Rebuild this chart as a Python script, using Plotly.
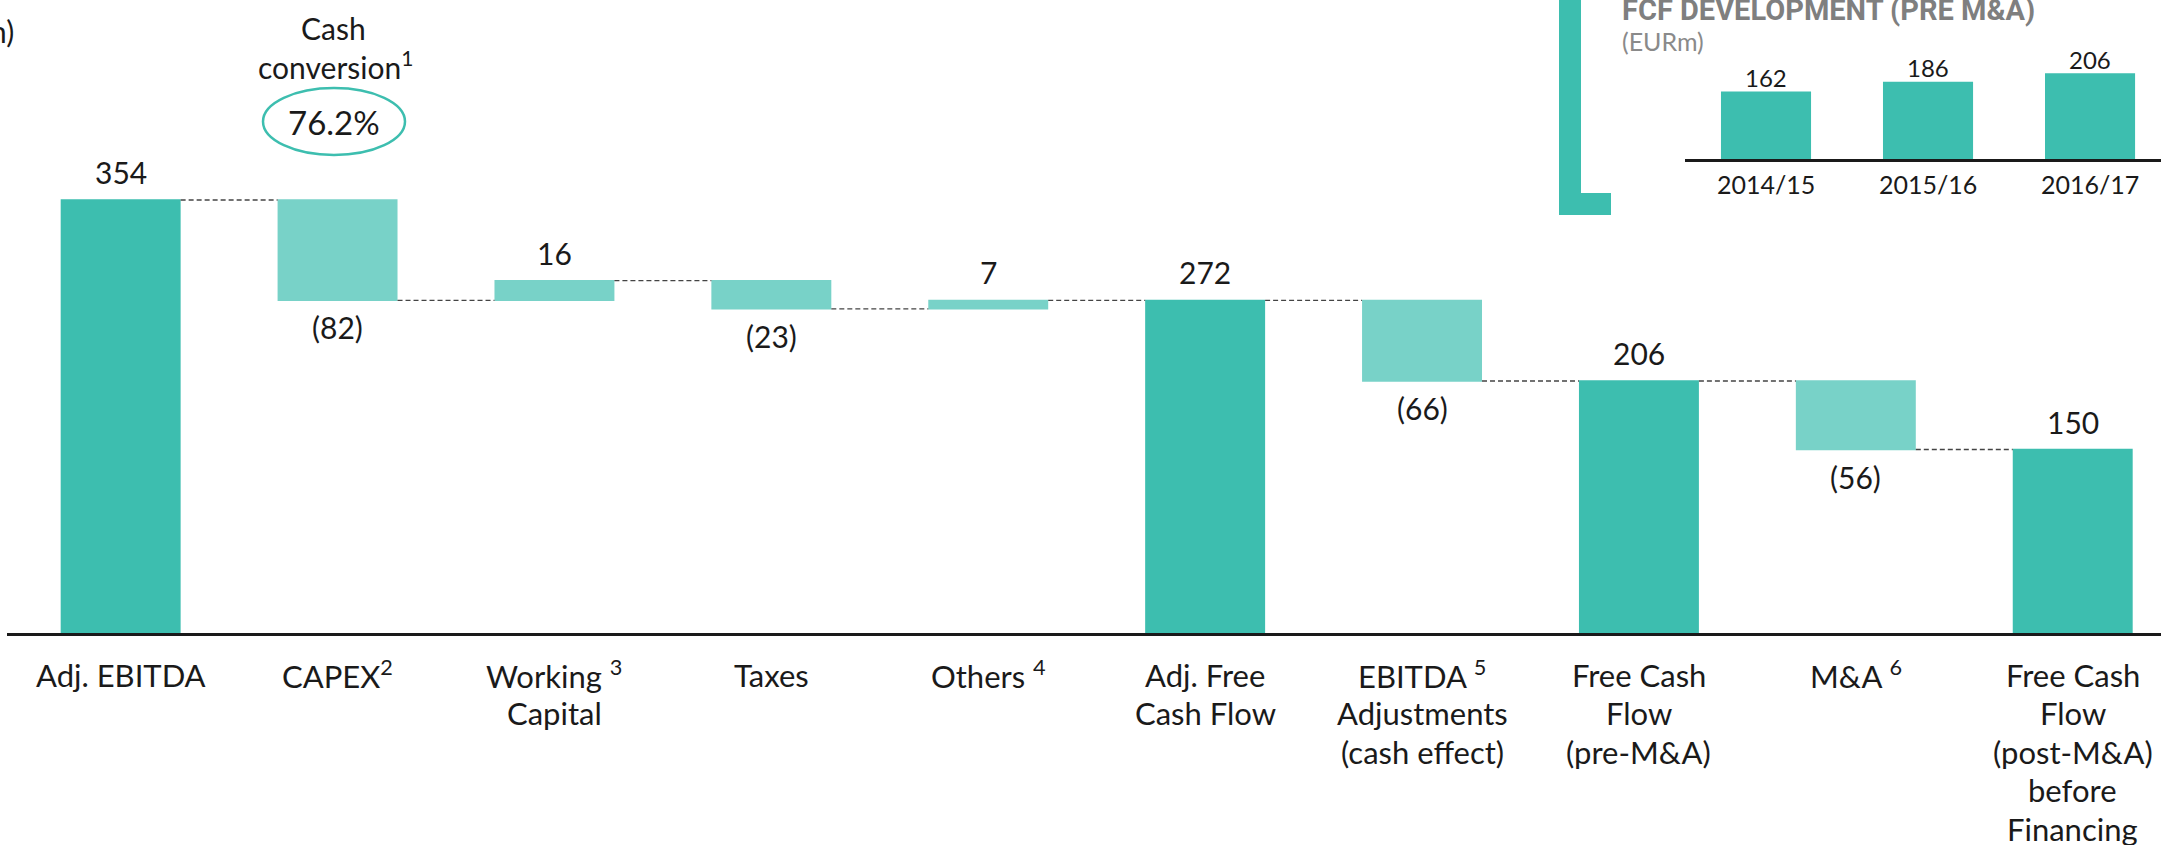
import plotly.graph_objects as go

# ---------------- data ----------------
categories = ["Adj. EBITDA", "CAPEX", "Working Capital", "Taxes", "Others",
              "Adj. Free Cash Flow", "EBITDA Adjustments", "Free Cash Flow (pre-M&A)",
              "M&A", "Free Cash Flow (post-M&A)"]
tick_labels = ["Adj. EBITDA", "CAPEX<sup>2</sup>", "Working <sup>3</sup><br>Capital", "Taxes",
               "Others <sup>4</sup>", "Adj. Free<br>Cash Flow",
               "EBITDA <sup>5</sup><br>Adjustments<br>(cash effect)",
               "Free Cash<br>Flow<br>(pre-M&A)", "M&A <sup>6</sup>",
               "Free Cash<br>Flow<br>(post-M&A)<br>before<br>Financing"]
measures = ["absolute", "relative", "relative", "relative", "relative",
            "total", "relative", "total", "relative", "total"]
values = [354, -82, 16, -23, 7, 272, -66, 206, -56, 150]

inset_years = ["2014/15", "2015/16", "2016/17"]
inset_values = [162, 186, 206]

cash_conversion = "76.2%"

# ---------------- layout helpers ----------------
W, H = 2161, 845
ML, MR, MT, MB = 7, 0, 0, 212
PW, PH = W - ML - MR, H - MT - MB
DARK = "#3DBEAF"
LIGHT = "#78D2C8"
TXT = "#1a1a1a"
FONT = "Lato, 'Open Sans', sans-serif"


def pxx(p):
    return (p - ML) / PW


def pyy(p):
    return (H - MB - p) / PH


fig = go.Figure()

fig.add_trace(go.Waterfall(
    x=categories, y=values, measure=measures,
    increasing=dict(marker=dict(color=LIGHT, line=dict(width=0))),
    decreasing=dict(marker=dict(color=LIGHT, line=dict(width=0))),
    totals=dict(marker=dict(color=DARK, line=dict(width=0))),
    connector=dict(mode="between", line=dict(color="#444444", width=1.3, dash="5px,3px")),
    textinfo="none", hoverinfo="skip", showlegend=False,
))

fig.add_trace(go.Bar(
    x=inset_years, y=inset_values, xaxis="x2", yaxis="y2",
    marker=dict(color=DARK, line=dict(width=0)), width=0.556,
    hoverinfo="skip", showlegend=False,
))

annotations = []

# value labels on the waterfall
running = 0
for cat, m, v in zip(categories, measures, values):
    if m == "absolute":
        lo, hi = 0, v
        running = v
    elif m == "total":
        lo, hi = 0, running
        v = running
    else:
        lo, hi = (running, running + v) if v >= 0 else (running + v, running)
        running += v
    if v >= 0:
        text, yv, shift = f"{v}", hi, 28
    else:
        text, yv, shift = f"({abs(v)})", lo, -27
    annotations.append(dict(x=cat, y=yv, xref="x", yref="y", text=text, showarrow=False,
                            yshift=shift, yanchor="middle", xanchor="center",
                            font=dict(family=FONT, size=30, color=TXT),
                            borderpad=0, borderwidth=0))

# category labels below the axis
for cat, lab in zip(categories, tick_labels):
    for i, line in enumerate(lab.split("<br>")):
        annotations.append(dict(x=cat, y=pyy(674.5 + i * 38.5), xref="x", yref="paper",
                                text=line, showarrow=False, yanchor="middle", xanchor="center",
                                font=dict(family=FONT, size=31, color=TXT),
                                borderpad=0, borderwidth=0))

# cash conversion
annotations += [
    dict(x=pxx(333), y=pyy(27.5), xref="paper", yref="paper", text="Cash", showarrow=False,
         yanchor="middle", xanchor="center", font=dict(family=FONT, size=30, color=TXT)),
    dict(x=pxx(335), y=pyy(65), xref="paper", yref="paper", text="conversion<sup>1</sup>",
         showarrow=False, yanchor="middle", xanchor="center",
         font=dict(family=FONT, size=30, color=TXT)),
    dict(x=pxx(334), y=pyy(122), xref="paper", yref="paper", text=cash_conversion,
         showarrow=False, yanchor="middle", xanchor="center",
         font=dict(family=FONT, size=33, color=TXT)),
    dict(x=pxx(16), y=pyy(31), xref="paper", yref="paper", text="(EURm)", showarrow=False,
         yanchor="middle", xanchor="right", font=dict(family=FONT, size=30, color=TXT)),
]

# inset labels
for yr, v in zip(inset_years, inset_values):
    annotations.append(dict(x=yr, y=v, xref="x2", yref="y2", text=str(v), showarrow=False,
                            yanchor="middle", xanchor="center", yshift=14,
                            font=dict(family=FONT, size=24, color=TXT)))
    annotations.append(dict(x=yr, y=pyy(184), xref="x2", yref="paper", text=yr,
                            showarrow=False, yanchor="middle", xanchor="center",
                            font=dict(family=FONT, size=25, color=TXT)))

annotations += [
    dict(x=pxx(1620), y=pyy(10), xref="paper", yref="paper",
         text="<b>FCF DEVELOPMENT (PRE M&A)</b>", showarrow=False,
         yanchor="middle", xanchor="left",
         font=dict(family="Roboto, sans-serif", size=29, color="#7f7f7f")),
    dict(x=pxx(1620), y=pyy(41.5), xref="paper", yref="paper", text="(EURm)", showarrow=False,
         yanchor="middle", xanchor="left", font=dict(family=FONT, size=25, color="#8a8a8a")),
]

shapes = [
    # cash conversion ellipse
    dict(type="circle", xref="paper", yref="paper",
         x0=pxx(263), x1=pxx(405), y0=pyy(155), y1=pyy(88),
         line=dict(color=DARK, width=2.5), fillcolor="rgba(0,0,0,0)"),
    # inset bracket
    dict(type="rect", xref="paper", yref="paper", x0=pxx(1559), x1=pxx(1581),
         y0=pyy(215), y1=pyy(-5), line=dict(width=0), fillcolor=DARK),
    dict(type="rect", xref="paper", yref="paper", x0=pxx(1559), x1=pxx(1611),
         y0=pyy(215), y1=pyy(193), line=dict(width=0), fillcolor=DARK),
]

fig.update_layout(
    width=W, height=H,
    margin=dict(l=ML, r=MR, t=MT, b=MB, pad=0),
    paper_bgcolor="white", plot_bgcolor="rgba(0,0,0,0)",
    waterfallgap=0.447,
    showlegend=False,
    xaxis=dict(range=[-0.524, 9.407], showticklabels=False, ticks="", showgrid=False,
               zeroline=False, showline=True, linecolor=TXT, linewidth=3, fixedrange=True),
    yaxis=dict(range=[0, 517.5], visible=False, fixedrange=True),
    xaxis2=dict(domain=[pxx(1685), 1], anchor="y2", range=[-0.5, 2.438], showticklabels=False,
                ticks="", showgrid=False, zeroline=False, showline=True, linecolor=TXT,
                linewidth=3, fixedrange=True),
    yaxis2=dict(domain=[pyy(159), pyy(60)], anchor="x2", range=[0, 238], visible=False,
                fixedrange=True),
    annotations=annotations,
    shapes=shapes,
    font=dict(family=FONT, color=TXT),
)

fig.write_html("out.html", config={"displayModeBar": False})
